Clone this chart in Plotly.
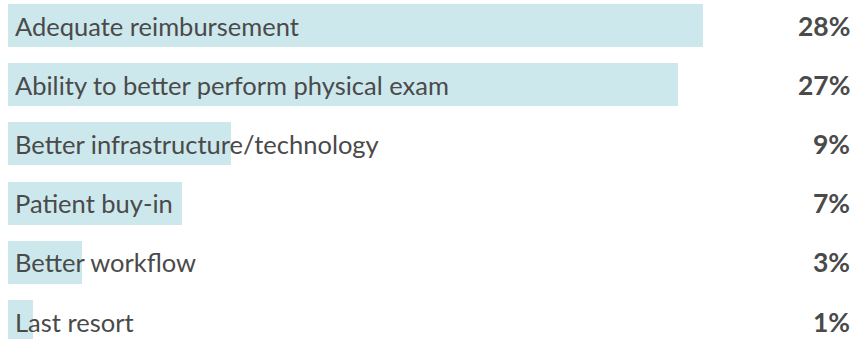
import plotly.graph_objects as go

categories = [
    "Adequate reimbursement",
    "Ability to better perform physical exam",
    "Better infrastructure/technology",
    "Patient buy-in",
    "Better workflow",
    "Last resort",
]
values = [28, 27, 9, 7, 3, 1]
value_labels = ["28%", "27%", "9%", "7%", "3%", "1%"]

positions = list(range(len(categories)))

fig = go.Figure()
fig.add_trace(go.Bar(
    x=values,
    y=positions,
    orientation="h",
    width=0.726,
    marker=dict(color="#cce8ec", line=dict(width=0)),
    hoverinfo="skip",
))

annotations = []
for p, c, lab in zip(positions, categories, value_labels):
    annotations.append(dict(
        x=0, y=p, xref="x", yref="y", text=c, showarrow=False,
        xanchor="left", yanchor="middle", xshift=5,
        font=dict(family="Lato", size=25.5, color="#4a4a4a"),
    ))
    annotations.append(dict(
        x=1, y=p, xref="paper", yref="y", text="<b>" + lab + "</b>", showarrow=False,
        xanchor="right", yanchor="middle", xshift=1,
        font=dict(family="Lato", size=26.5, color="#4a4a4a"),
    ))

fig.update_layout(
    width=853, height=339,
    margin=dict(l=8, r=2, t=0, b=0),
    paper_bgcolor="white", plot_bgcolor="white",
    showlegend=False,
    xaxis=dict(range=[0, 33.95], visible=False, fixedrange=True),
    yaxis=dict(range=[5.295, -0.431], visible=False, fixedrange=True),
    annotations=annotations,
    bargap=0,
)

fig.write_html("out.html", post_script="document.body.style.margin='0';", config={"displayModeBar": False})
